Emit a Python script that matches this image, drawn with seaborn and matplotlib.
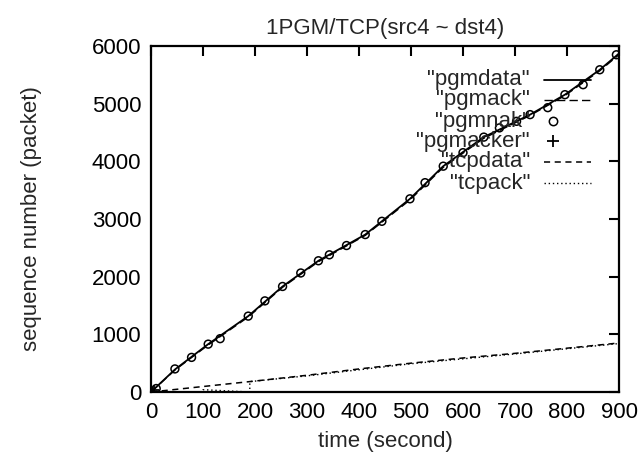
import matplotlib
matplotlib.use("Agg")
import matplotlib.pyplot as plt
import seaborn as sns
import pandas as pd

# ---- data ----
pgmdata_t = [0, 46, 110, 187, 253, 322, 412, 498, 562, 640, 729, 796, 863, 900]
pgmdata_s = [0, 390, 830, 1316, 1830, 2276, 2730, 3350, 3916, 4420, 4810, 5156, 5588, 5870]

pgmack_t = [0, 46, 110, 187, 253, 322, 412, 498, 562, 640, 729, 796, 863, 900]
pgmack_s = [0, 380, 815, 1300, 1815, 2260, 2715, 3330, 3895, 4400, 4795, 5140, 5570, 5850]

pgmnak_t = [10, 46, 78, 110, 133, 187, 219, 253, 288, 322, 343, 376, 412, 444, 498,
            527, 562, 600, 640, 670, 703, 729, 763, 796, 831, 863, 895]
pgmnak_s = [60, 400, 600, 830, 925, 1316, 1580, 1830, 2064, 2276, 2379, 2540, 2730,
            2960, 3350, 3630, 3916, 4150, 4420, 4580, 4694, 4810, 4931, 5156, 5329,
            5588, 5848]

pgmacker_t = [0, 5]
pgmacker_s = [0, 30]

tcpdata_t = [0, 100, 200, 300, 400, 500, 600, 700, 800, 900]
tcpdata_s = [0, 95, 190, 290, 400, 500, 590, 670, 760, 850]

tcpack_t = [0, 100, 100, 190, 190, 300, 500, 700, 900]
tcpack_s = [0, 0, 40, 0, 180, 280, 490, 660, 840]

title = "1PGM/TCP(src4 ~ dst4)"
xlabel = "time (second)"
ylabel = "sequence number (packet)"
xticks = [0, 100, 200, 300, 400, 500, 600, 700, 800, 900]
yticks = [0, 1000, 2000, 3000, 4000, 5000, 6000]
legend_labels = ['"pgmdata"', '"pgmack"', '"pgmnak"', '"pgmacker"', '"tcpdata"', '"tcpack"']

# ---- style ----
sns.set_style("white")
plt.rcParams["font.family"] = ["Liberation Sans", "DejaVu Sans"]
FS = 16
plt.rcParams["font.size"] = FS

fig = plt.figure(figsize=(6.41, 4.55), dpi=100)
ax = fig.add_axes([151 / 641, (455 - 392) / 455, (619 - 151) / 641, (392 - 46) / 455])

black = "black"
sns.lineplot(x=pgmdata_t, y=pgmdata_s, ax=ax, color=black, lw=1.3, linestyle="-",
             estimator=None, sort=False)
sns.lineplot(x=pgmack_t, y=pgmack_s, ax=ax, color=black, lw=1.0, linestyle=(0, (6, 3)),
             estimator=None, sort=False)
sns.scatterplot(x=pgmnak_t, y=pgmnak_s, ax=ax, marker="o", s=32, facecolor="none",
                edgecolor=black, linewidth=1.1, zorder=3)
sns.scatterplot(x=pgmacker_t, y=pgmacker_s, ax=ax, marker="+", s=60, color=black,
                linewidth=1.3, zorder=3)
sns.lineplot(x=tcpdata_t, y=tcpdata_s, ax=ax, color=black, lw=1.1, linestyle=(0, (4, 3)),
             estimator=None, sort=False)
sns.lineplot(x=tcpack_t, y=tcpack_s, ax=ax, color=black, lw=1.0, linestyle=(0, (1, 2)),
             estimator=None, sort=False)

ax.set_xlim(0, 900)
ax.set_ylim(0, 6000)
ax.set_xticks(xticks)
ax.set_yticks(yticks)
ax.tick_params(direction="in", length=7, width=1.5, top=True, right=True,
               labelsize=FS, pad=7, colors=black)
for sp in ax.spines.values():
    sp.set_visible(True)
    sp.set_linewidth(1.6)
    sp.set_color(black)

ax.set_title(title, fontsize=FS, pad=9)
ax.set_xlabel(xlabel, fontsize=FS, labelpad=6)
ax.set_ylabel(ylabel, fontsize=FS, labelpad=36)

# ---- legend (right-aligned labels, sample on the right, gnuplot style) ----
rows_y = [0.902, 0.844, 0.783, 0.725, 0.665, 0.604]
text_x = 0.81
s0, s1 = 0.84, 0.94
styles = [
    dict(kind="line", ls="-", lw=1.3),
    dict(kind="line", ls=(0, (6, 3)), lw=1.0),
    dict(kind="marker", marker="o"),
    dict(kind="marker", marker="+"),
    dict(kind="line", ls=(0, (4, 3)), lw=1.1),
    dict(kind="line", ls=(0, (1, 2)), lw=1.0),
]
for lab, yy, st in zip(legend_labels, rows_y, styles):
    ax.text(text_x, yy, lab, transform=ax.transAxes, ha="right", va="center", fontsize=FS)
    if st["kind"] == "line":
        ax.plot([s0, s1], [yy, yy], transform=ax.transAxes, color=black,
                linestyle=st["ls"], lw=st["lw"], clip_on=False)
    else:
        if st["marker"] == "o":
            ax.plot([(s0 + s1) / 2 - 0.03], [yy], transform=ax.transAxes, marker="o",
                    ms=6, mfc="none", mec=black, mew=1.1, linestyle="none")
        else:
            ax.plot([(s0 + s1) / 2 - 0.03], [yy], transform=ax.transAxes, marker="+",
                    ms=9, mec=black, mew=1.3, linestyle="none")

fig.savefig("out.png", dpi=100)
